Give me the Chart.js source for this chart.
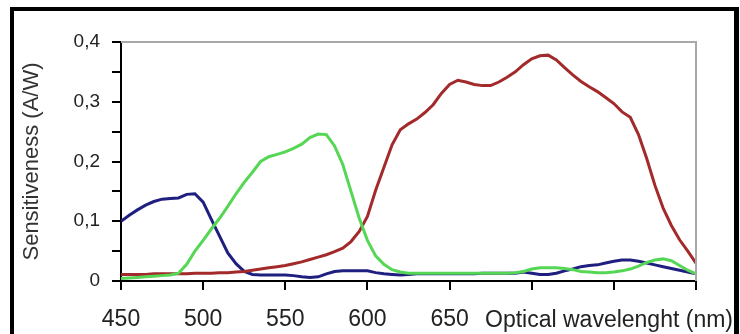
<!DOCTYPE html>
<html>
<head>
<meta charset="utf-8">
<script src="https://cdn.jsdelivr.net/npm/chart.js@4.4.1/dist/chart.umd.min.js"></script>
<style>
  html, body { margin: 0; padding: 0; background: #fff; }
  #wrap { position: relative; width: 740px; height: 334px; overflow: hidden; }
  #frame {
    position: absolute; left: 10px; top: 7px; width: 729px; height: 400px;
    box-sizing: border-box; border: 4px solid #000; border-right-width: 5px; border-bottom: none;
    pointer-events: none;
  }
</style>
</head>
<body>
<div id="wrap">
  <canvas id="chart" width="740" height="334"></canvas>
  <div id="frame"></div>
</div>
<script>
// wavelength (nm), 5 nm steps
const wavelengths = [
  450, 455, 460, 465, 470, 475, 480, 485, 490, 495,
  500, 505, 510, 515, 520, 525, 530, 535, 540, 545,
  550, 555, 560, 565, 570, 575, 580, 585, 590, 595,
  600, 605, 610, 615, 620, 625, 630, 635, 640, 645,
  650, 655, 660, 665, 670, 675, 680, 685, 690, 695,
  700, 705, 710, 715, 720, 725, 730, 735, 740, 745,
  750, 755, 760, 765, 770, 775, 780, 785, 790, 795, 800
];

// sensitiveness (A/W)
const blueValues = [
  0.100, 0.110, 0.119, 0.127, 0.133, 0.137, 0.138, 0.139, 0.145, 0.146,
  0.132, 0.103, 0.075, 0.047, 0.029, 0.016, 0.011, 0.010, 0.010, 0.010,
  0.010, 0.009, 0.007, 0.006, 0.007, 0.012, 0.016, 0.017, 0.017, 0.017,
  0.017, 0.014, 0.012, 0.011, 0.010, 0.011, 0.012, 0.012, 0.012, 0.012,
  0.012, 0.012, 0.012, 0.012, 0.013, 0.013, 0.013, 0.013, 0.013, 0.015,
  0.013, 0.011, 0.011, 0.013, 0.017, 0.020, 0.024, 0.026, 0.027, 0.030,
  0.033, 0.035, 0.035, 0.033, 0.030, 0.027, 0.024, 0.021, 0.018, 0.015, 0.012
];

const greenValues = [
  0.004, 0.005, 0.006, 0.007, 0.008, 0.009, 0.010, 0.013, 0.028, 0.050,
  0.068, 0.087, 0.105, 0.125, 0.146, 0.165, 0.182, 0.200, 0.208, 0.212,
  0.216, 0.222, 0.229, 0.240, 0.246, 0.245, 0.226, 0.195, 0.150, 0.105,
  0.068, 0.042, 0.028, 0.019, 0.015, 0.013, 0.013, 0.013, 0.013, 0.013,
  0.013, 0.013, 0.013, 0.013, 0.013, 0.013, 0.013, 0.013, 0.014, 0.016,
  0.020, 0.022, 0.022, 0.022, 0.021, 0.019, 0.016, 0.015, 0.014, 0.014,
  0.015, 0.017, 0.020, 0.025, 0.031, 0.035, 0.037, 0.034, 0.026, 0.018, 0.012
];

const redValues = [
  0.011, 0.011, 0.011, 0.011, 0.012, 0.012, 0.012, 0.012, 0.012, 0.013,
  0.013, 0.013, 0.014, 0.014, 0.015, 0.016, 0.018, 0.020, 0.022, 0.024,
  0.026, 0.029, 0.032, 0.036, 0.040, 0.044, 0.049, 0.055, 0.066, 0.083,
  0.108, 0.152, 0.190, 0.228, 0.253, 0.263, 0.271, 0.282, 0.295, 0.314,
  0.329, 0.336, 0.333, 0.329, 0.327, 0.327, 0.333, 0.341, 0.350, 0.362,
  0.372, 0.377, 0.378, 0.370, 0.357, 0.345, 0.334, 0.325, 0.317, 0.307,
  0.297, 0.283, 0.274, 0.245, 0.205, 0.160, 0.122, 0.093, 0.069, 0.050, 0.030
];

const xLabelMax = 650;
const yLabelStep = 0.1;

const toPoints = vals => wavelengths.map((w, i) => ({ x: w, y: vals[i] }));

// gray top/right frame of the plot area + x axis title
const plotFrame = {
  id: 'plotFrame',
  afterDraw(chart) {
    const { ctx, chartArea: a } = chart;
    ctx.save();
    ctx.strokeStyle = '#a8a8a8';
    ctx.lineWidth = 2;
    ctx.beginPath();
    ctx.moveTo(a.left, a.top);
    ctx.lineTo(a.right, a.top);
    ctx.lineTo(a.right, a.bottom);
    ctx.stroke();

    ctx.fillStyle = '#222';
    ctx.font = '23px "Liberation Sans", Arial, sans-serif';
    ctx.textAlign = 'right';
    ctx.textBaseline = 'alphabetic';
    ctx.fillText('Optical wavelenght (nm)', 733, 327);
    ctx.restore();
  }
};

new Chart(document.getElementById('chart'), {
  type: 'line',
  data: {
    datasets: [
      { label: 'G', data: toPoints(greenValues), borderColor: '#55d655', borderWidth: 3 },
      { label: 'R', data: toPoints(redValues), borderColor: '#a32a2a', borderWidth: 3 },
      { label: 'B', data: toPoints(blueValues), borderColor: '#1f1f80', borderWidth: 3 }
    ]
  },
  options: {
    responsive: false,
    animation: false,
    events: [],
    layout: { padding: { left: 0, top: 42, right: 44, bottom: 0 } },
    elements: { point: { radius: 0 }, line: { tension: 0, fill: false } },
    plugins: { legend: { display: false }, tooltip: { enabled: false } },
    scales: {
      x: {
        type: 'linear',
        min: 450,
        max: 800,
        afterFit: s => { s.height = 53; },
        border: { color: '#000', width: 2 },
        grid: { drawOnChartArea: false, drawTicks: true, tickLength: 9, color: '#000', lineWidth: 2, tickColor: '#000', tickWidth: 2 },
        ticks: {
          stepSize: 50,
          autoSkip: false,
          maxRotation: 0,
          padding: 16,
          color: '#222',
          font: { family: '"Liberation Sans", Arial, sans-serif', size: 23 },
          callback: v => (v <= xLabelMax ? String(v) : '')
        }
      },
      y: {
        min: 0,
        max: 0.4,
        afterFit: s => { s.width = 121; },
        border: { color: '#000', width: 2 },
        grid: { drawOnChartArea: false, drawTicks: true, tickLength: 9, color: '#000', lineWidth: 2, tickColor: '#000', tickWidth: 2 },
        ticks: {
          stepSize: 0.05,
          autoSkip: false,
          padding: 12,
          color: '#222',
          font: { family: '"Liberation Sans", Arial, sans-serif', size: 19 },
          callback: v => {
            const r = Math.round(v * 100);
            if (r % Math.round(yLabelStep * 100) !== 0) return '';
            return r === 0 ? '0' : (r / 100).toFixed(1).replace('.', ',');
          }
        },
        title: {
          display: true,
          text: 'Sensitiveness (A/W)',
          color: '#333',
          padding: { top: 19, bottom: 0 },
          font: { family: '"Liberation Sans", Arial, sans-serif', size: 22 }
        }
      }
    }
  },
  plugins: [plotFrame]
});
</script>
</body>
</html>
